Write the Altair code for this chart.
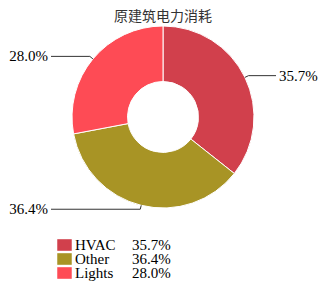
import altair as alt
import numpy as np
import pandas as pd

# ---- data ----
categories = ["HVAC", "Other", "Lights"]
values = [35.7, 36.4, 28.0]
pct_labels = ["35.7%", "36.4%", "28.0%"]
colors = ["#d1404c", "#a89425", "#fe4b55"]
title_text = "原建筑电力消耗"

# ---- layout (plot-area pixel coordinates) ----
W, H = 310, 274
CX, CY = 155, 109
R_OUT, R_IN = 91, 35.5
KINK = 4
FONT = "Times New Roman, Liberation Serif, serif"

df = pd.DataFrame({"cat": categories, "value": values, "label": pct_labels,
                   "idx": list(range(len(categories)))})

total = float(sum(values))
cum = np.cumsum([0.0] + values)
line_rows, label_rows = [], []
for i, c in enumerate(categories):
    a = (cum[i] + values[i] / 2.0) / total * 2 * np.pi
    s, co = np.sin(a), np.cos(a)
    p0 = (CX + R_OUT * s, CY - R_OUT * co)
    p1 = (CX + (R_OUT + KINK) * s, CY - (R_OUT + KINK) * co)
    right = s > 0
    x_end = 268 if right else 43
    line_rows += [
        {"cat": c, "o": 0, "x": p0[0], "y": p0[1]},
        {"cat": c, "o": 1, "x": p1[0], "y": p1[1]},
        {"cat": c, "o": 2, "x": x_end, "y": p1[1]},
    ]
    label_rows.append({"cat": c, "label": pct_labels[i],
                       "x": 271 if right else 40, "y": p1[1],
                       "side": "r" if right else "l"})
lines_df = pd.DataFrame(line_rows)
labels_df = pd.DataFrame(label_rows)

legend_df = df.copy()
legend_df["ly"] = [237 + 14 * i for i in range(len(categories))]

color_scale = alt.Scale(domain=categories, range=colors)

arcs = alt.Chart(df).mark_arc(
    outerRadius=R_OUT, innerRadius=R_IN, stroke="white", strokeWidth=1
).encode(
    theta=alt.Theta("value:Q", stack=True),
    color=alt.Color("cat:N", scale=color_scale, legend=None),
    order=alt.Order("idx:Q"),
    x=alt.value(CX), y=alt.value(CY),
)

leader = alt.Chart(lines_df).mark_line(color="#333333", strokeWidth=1).encode(
    x=alt.X("x:Q", scale=None), y=alt.Y("y:Q", scale=None),
    detail="cat:N", order="o:Q",
)

lab_r = alt.Chart(labels_df).transform_filter(alt.datum.side == "r").mark_text(
    align="left", baseline="middle", font=FONT, fontSize=15, color="#000000"
).encode(x=alt.X("x:Q", scale=None), y=alt.Y("y:Q", scale=None), text="label:N")

lab_l = alt.Chart(labels_df).transform_filter(alt.datum.side == "l").mark_text(
    align="right", baseline="middle", font=FONT, fontSize=15, color="#000000"
).encode(x=alt.X("x:Q", scale=None), y=alt.Y("y:Q", scale=None), text="label:N")

title = alt.Chart(pd.DataFrame({"t": [title_text]})).mark_text(
    align="center", baseline="top", font="Noto Sans CJK SC", fontSize=14,
    color="#333333"
).encode(x=alt.value(W / 2), y=alt.value(2), text="t:N")

leg_sq = alt.Chart(legend_df).mark_point(
    shape="M-1,-0.8H1V0.8H-1Z", size=210, filled=True, opacity=1
).encode(
    x=alt.value(56.5), y=alt.Y("ly:Q", scale=None),
    color=alt.Color("cat:N", scale=color_scale, legend=None),
)
leg_name = alt.Chart(legend_df).mark_text(
    align="left", baseline="middle", font=FONT, fontSize=15, color="#000000"
).encode(x=alt.value(67), y=alt.Y("ly:Q", scale=None), text="cat:N")
leg_pct = alt.Chart(legend_df).mark_text(
    align="left", baseline="middle", font=FONT, fontSize=15, color="#000000"
).encode(x=alt.value(124), y=alt.Y("ly:Q", scale=None), text="label:N")

chart = alt.layer(arcs, leader, lab_r, lab_l, title, leg_sq, leg_name, leg_pct).properties(
    width=W, height=H, padding=0, autosize=alt.AutoSizeParams(type="none")
).configure_view(stroke=None)

chart.save("out.html", embed_options={"renderer": "svg", "actions": False})
